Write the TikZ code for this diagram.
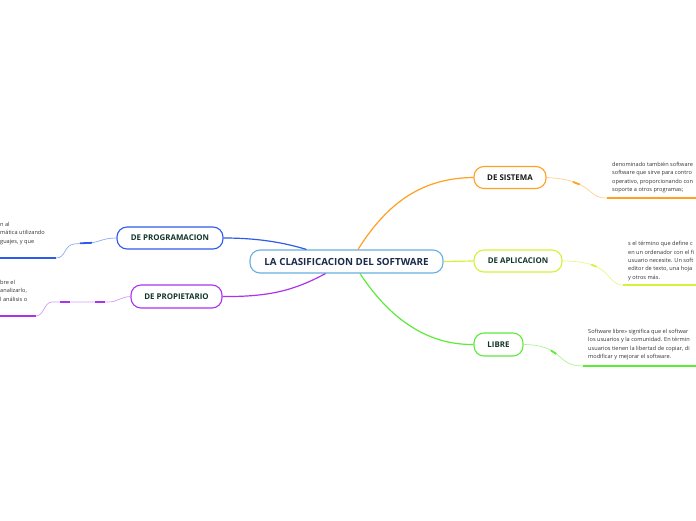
\documentclass[tikz,border=0pt]{standalone}
\usepackage{fontspec}
\setmainfont{Open Sans}
\definecolor{cmain}{HTML}{6AAEE0}
\definecolor{navy}{HTML}{1B2B4B}
\definecolor{dgreen}{HTML}{12352A}
\definecolor{dgray}{HTML}{333333}
\definecolor{orA}{HTML}{FFA020}
\definecolor{orL}{HTML}{FFD08C}
\definecolor{yeA}{HTML}{D4F23A}
\definecolor{yeL}{HTML}{E6F98A}
\definecolor{grA}{HTML}{5DEB3A}
\definecolor{grL}{HTML}{A8F590}
\definecolor{blA}{HTML}{2F5BEA}
\definecolor{blL}{HTML}{8EA9F5}
\definecolor{puA}{HTML}{AA33F0}
\definecolor{puL}{HTML}{D49CF8}
\begin{document}
\begin{tikzpicture}[x=1pt,y=-1pt,
  mainbox/.style={draw=cmain, line width=1.1pt, rounded corners=10pt, fill=white,
    minimum width=193pt, minimum height=23pt, inner sep=0pt,
    font=\fontsize{9.8}{11}\selectfont\bfseries, text=navy},
  subbox/.style={rounded corners=10pt, fill=white, line width=1.1pt, inner sep=0pt,
    minimum height=22pt, font=\fontsize{7.9}{9}\selectfont\bfseries, text=dgreen},
  desc/.style={anchor=north west, align=left, inner sep=0pt,
    font=\fontsize{5.6}{8.3}\selectfont, text=dgray},
  mainlink/.style={line width=1.2pt},
  sublink/.style={line width=0.7pt},
  thickseg/.style={line width=1.8pt},
  uline/.style={line width=1.5pt}
]
\useasboundingbox (0,0) rectangle (696,520);
\clip (0,0) rectangle (696,520);

% nodes
\node[mainbox] (c) at (346.5,261.5) {LA CLASIFICACION DEL SOFTWARE};
\node[subbox, draw=orA, minimum width=72pt, text=black!90] (sis) at (510,177.5) {DE SISTEMA};
\node[subbox, draw=yeA, minimum width=88pt] (apl) at (518,261) {DE APLICACION};
\node[subbox, draw=grA, minimum width=49pt, minimum height=23pt] (lib) at (498.5,344.5) {LIBRE};
\node[subbox, draw=blA, minimum width=106pt] (prog) at (170,238) {DE PROGRAMACION};
\node[subbox, draw=puA, minimum width=91pt, minimum height=23pt] (prop) at (176.5,296.5) {DE PROPIETARIO};

% main connectors
\draw[mainlink, orA] ([xshift=11.5pt]c.north) .. controls (392,195) and (430,178) .. (sis.west);
\draw[mainlink, yeA] (c.east) -- (apl.west);
\draw[mainlink, grA] ([xshift=13.5pt]c.south) .. controls (392,322) and (430,345) .. (lib.west);
\draw[mainlink, blA] (prog.east) .. controls (260,238) and (285,243) .. ([xshift=-40pt]c.north);
\draw[mainlink, puA] (prop.east) .. controls (270,297) and (295,290) .. ([xshift=-21pt]c.south);

% description end points
\coordinate (sisU) at (607,198);
\coordinate (aplU) at (623,285);
\coordinate (libU) at (583,366);
\coordinate (progU) at (56,258);
\coordinate (propU) at (36,316);

% secondary connectors
\draw[sublink, orL] (sis.east) .. controls (595,180) and (585,198) .. (sisU);
\draw[thickseg, orA] (573,181.9) -- (579.6,184.5);
\draw[uline, orA] (sisU) -- (696,198);

\draw[sublink, yeL] (apl.east) .. controls (615,261) and (605,285) .. (aplU);
\draw[thickseg, yeA] (591.4,264.7) -- (596.5,266.8);
\draw[uline, yeA] (aplU) -- (696,285);

\draw[sublink, grL] (lib.east) .. controls (565,345) and (555,366) .. (libU);
\draw[thickseg, grA] (550.8,350.3) -- (556.2,353.9);
\draw[uline, grA] (libU) -- (696,366);

\draw[sublink, blL] (prog.west) .. controls (102,238) and (98,243) .. (88,243) -- (74,244) .. controls (64,245) and (66,258) .. (progU);
\draw[thickseg, blA] (80,243.3) -- (92,242.8);
\draw[uline, blA] (progU) -- (0,258);

\draw[sublink, puL] (prop.west) .. controls (120,297) and (118,302) .. (108,302) -- (52,302) .. controls (44,302) and (44,316) .. (propU);
\draw[thickseg, puA] (95,302) -- (105,302);
\draw[thickseg, puA] (60,302) -- (70,302);
\draw[uline, puA] (propU) -- (0,316);

% descriptions
\node[desc] (sisT) at (612,162) {denominado también software\\software que sirve para contro\\operativo, proporcionando con\\soporte a otros programas;};
\node[desc] (aplT) at (628,241.5) {s el término que define c\\en un ordenador con el fi\\usuario necesite. Un soft\\editor de texto, una hoja\\y otros más.};
\node[desc] (libT) at (588,329) {Software libre» significa que el softwar\\los usuarios y la comunidad. En términ\\usuarios tienen la libertad de copiar, di\\modificar y mejorar el software.};
\node[desc] (progT) at (0,222) {n al\\mática utilizando\\guajes, y que};
\node[desc] (propT) at (0,280) {bre el\\analizarlo,\\l análisis o};
\end{tikzpicture}
\end{document}
